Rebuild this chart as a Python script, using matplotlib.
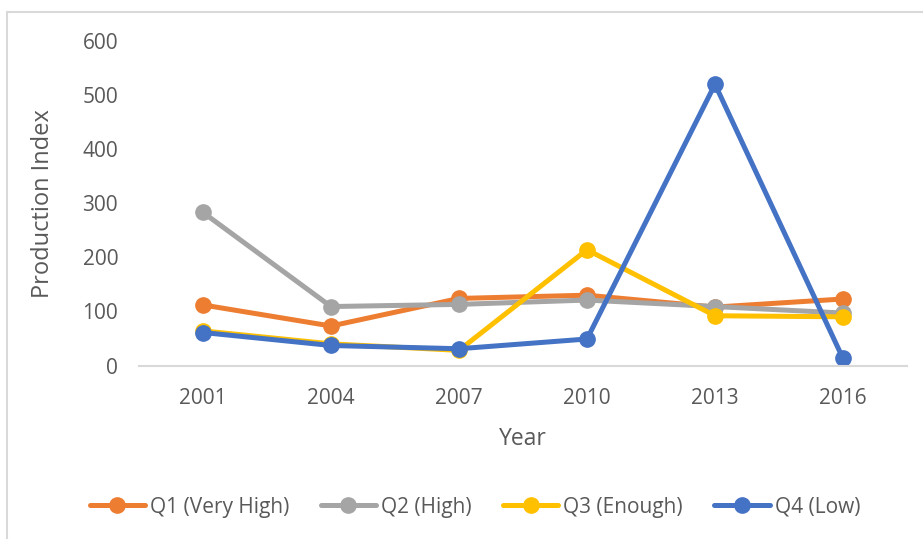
import matplotlib.pyplot as plt
from matplotlib.patches import Rectangle

# Data
years = ["2001", "2004", "2007", "2010", "2013", "2016"]
q1_very_high = [112, 73, 124, 130, 108, 123]
q2_high = [283, 109, 113, 121, 109, 97]
q3_enough = [64, 40, 28, 214, 92, 90]
q4_low = [61, 37, 31, 49, 520, 13]

series = [
    ("Q1 (Very High)", q1_very_high, "#ED7D31"),
    ("Q2 (High)", q2_high, "#A5A5A5"),
    ("Q3 (Enough)", q3_enough, "#FFC000"),
    ("Q4 (Low)", q4_low, "#4472C4"),
]

plt.rcParams['font.family'] = ['Open Sans', 'DejaVu Sans']
text_color = "#595959"

fig = plt.figure(figsize=(9.23, 5.39), dpi=100)
ax = fig.add_axes([139 / 923, 1 - 365.5 / 539, 768 / 923, 324.5 / 539])

# chart border (Excel style), right and bottom edges cut off
fig.patches.append(Rectangle((7 / 923, -0.05), 1.0, 1 - 11.5 / 539 + 0.05,
                             transform=fig.transFigure, fill=False,
                             edgecolor="#D9D9D9", linewidth=1.5))

x = range(len(years))
for name, vals, color in series:
    ax.plot(x, vals, color=color, linewidth=3.6, marker="o", markersize=11,
            label=name, solid_capstyle="round")

ax.set_xlim(-0.5, len(years) - 0.5)
ax.set_ylim(0, 600)
ax.set_yticks(range(0, 601, 100))
ax.set_xticks(list(x))
ax.set_xticklabels(years)

for side in ["top", "right", "left"]:
    ax.spines[side].set_visible(False)
ax.spines["bottom"].set_color("#D9D9D9")
ax.spines["bottom"].set_linewidth(1.5)
ax.tick_params(axis="both", length=0, labelsize=15, colors=text_color)
ax.tick_params(axis="y", pad=15)
ax.tick_params(axis="x", pad=16)

ax.set_xlabel("Year", fontsize=16.5, color=text_color, labelpad=13)
ax.set_ylabel("Production Index", fontsize=17, color=text_color, labelpad=20)

fig.legend(loc="center", bbox_to_anchor=(475 / 923, 1 - 507 / 539), ncol=4,
           frameon=False, fontsize=15, labelcolor=text_color,
           handlelength=2.65, handletextpad=0.25, columnspacing=1.5)

fig.savefig("out.png", dpi=100)
